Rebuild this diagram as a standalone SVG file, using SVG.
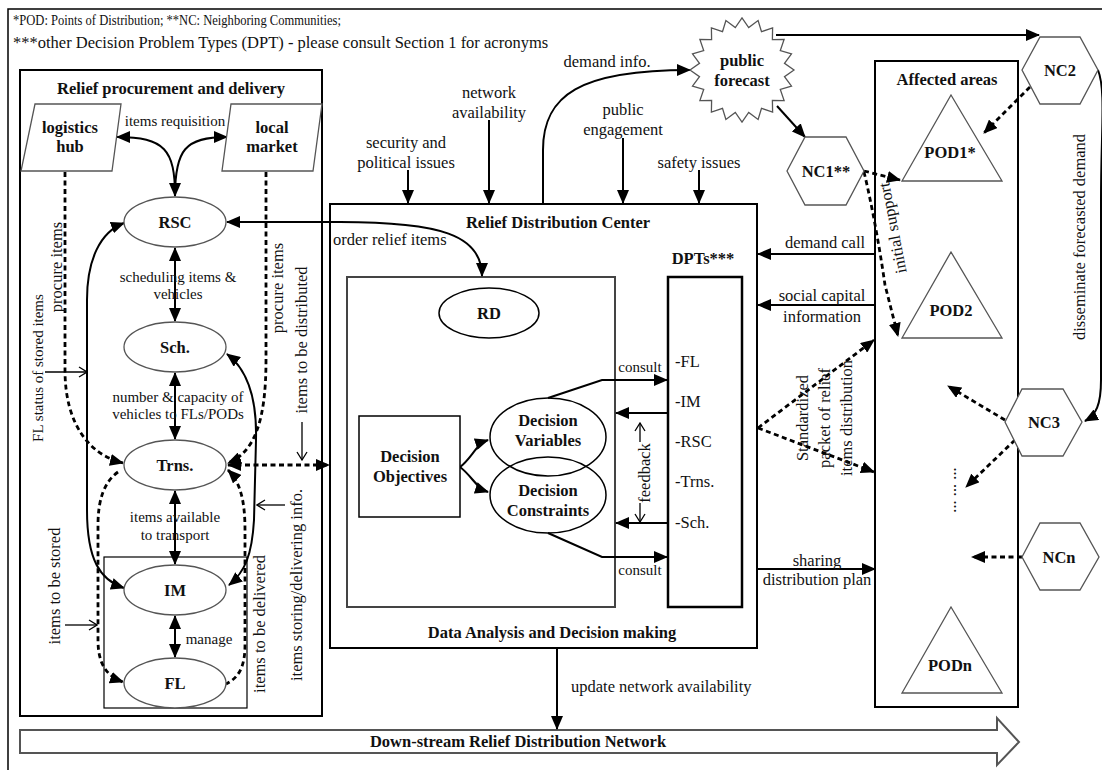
<svg xmlns="http://www.w3.org/2000/svg" width="1102" height="770" viewBox="0 0 1102 770">
<style>
.t{font-family:"Liberation Serif","Times New Roman",serif;font-size:16.5px;fill:#111}
.s{font-size:15px}
.b{font-weight:bold}
.c{text-anchor:middle}
.ln{fill:none;stroke:#000;stroke-width:2}
.dl{fill:none;stroke:#000;stroke-width:2.8;stroke-dasharray:5 3.5}
.th{fill:none;stroke:#000;stroke-width:1.3}
.nd{fill:#fff;stroke:#555;stroke-width:1.3}
.bx{fill:none;stroke:#000;stroke-width:2}
</style>
<defs>
<marker id="a" markerUnits="userSpaceOnUse" markerWidth="14" markerHeight="12" refX="13" refY="6" orient="auto-start-reverse" viewBox="0 0 14 12"><path d="M0,0 L14,6 L0,12 z" fill="#000"/></marker>
<marker id="o" markerUnits="userSpaceOnUse" markerWidth="10" markerHeight="12" refX="9" refY="6" orient="auto" viewBox="0 0 10 12"><path d="M1,1 L9,6 L1,11" fill="none" stroke="#000" stroke-width="1.3"/></marker>
</defs>
<rect width="1102" height="770" fill="#fff"/>
<rect x="8" y="9" width="1100" height="770" fill="none" stroke="#000" stroke-width="1.5"/>
<text class="t" x="13" y="25" style="font-size:15px" textLength="328" lengthAdjust="spacingAndGlyphs">*POD: Points of Distribution; **NC: Neighboring Communities;</text>
<text class="t" x="13" y="48">***other Decision Problem Types (DPT) - please consult Section 1 for acronyms</text>

<g id="panel-left">
<rect x="20" y="70" width="302" height="646" class="bx"/>
<text class="t b c" x="171" y="94">Relief procurement and delivery</text>
<rect x="104" y="557" width="143" height="151" fill="none" stroke="#000" stroke-width="1.2"/>
</g>
<g id="panel-rdc">
<rect x="330" y="204" width="427" height="444" class="bx"/>
<text class="t b c" x="558" y="228">Relief Distribution Center</text>
<rect x="347" y="277" width="268" height="330" fill="none" stroke="#444" stroke-width="2"/>
<text class="t b c" x="552" y="638">Data Analysis and Decision making</text>
</g>
<g id="panel-affected">
<rect x="875" y="61" width="143" height="646" class="bx"/>
<text class="t b c" x="947" y="85">Affected areas</text>
</g>
<g id="downstream">
<polygon points="20,730 997,730 997,718 1019,742 997,765 997,753 20,753" fill="none" stroke="#555" stroke-width="2"/>
<text class="t b c" x="518" y="747">Down-stream Relief Distribution Network</text>
</g>

<g id="connectors">
<path class="ln" d="M175,196 C175,150 165,137 117,137" marker-start="url(#a)" marker-end="url(#a)"/>
<path class="ln" d="M175,196 C175,150 185,137 227,137" marker-end="url(#a)"/>
<path class="ln" d="M175,248 L175,321" marker-start="url(#a)" marker-end="url(#a)"/>
<path class="ln" d="M175,373 L175,439" marker-start="url(#a)" marker-end="url(#a)"/>
<path class="ln" d="M175,491 L175,564" marker-start="url(#a)" marker-end="url(#a)"/>
<path class="ln" d="M175,616 L175,657" marker-start="url(#a)" marker-end="url(#a)"/>
<path class="ln" d="M124,223 C100,232 87,260 87,300 L87,510 C87,560 100,580 124,588" marker-start="url(#a)" marker-end="url(#a)"/>
<path class="ln" d="M227,354 C248,370 257,400 256,440 L254,520 C252,555 245,572 229,585" marker-start="url(#a)" marker-end="url(#a)"/>
<path class="dl" d="M65,172 L65,370 C65,425 90,455 123,463" marker-end="url(#a)"/>
<path class="dl" d="M266,172 L266,360 C266,420 255,452 228,463" marker-end="url(#a)"/>
<path class="dl" d="M118,472 C104,482 98,500 98,525 L98,640 C98,663 106,676 123,682" marker-end="url(#a)"/>
<path class="dl" d="M228,470 C240,482 245,500 245,530 L245,645 C245,668 238,678 226,684" marker-start="url(#a)"/>
<path class="dl" d="M228,465 L329,465" marker-start="url(#a)" marker-end="url(#a)"/>
<path class="th" d="M45,372 L87,372" marker-end="url(#o)"/>
<path class="th" d="M302,422 L302,460" marker-end="url(#o)"/>
<path class="th" d="M285,505 L257,505" marker-end="url(#o)"/>
<path class="th" d="M65,625 L97,625" marker-end="url(#o)"/>
<path class="ln" d="M227,222 L340,222 C440,222 482,235 482,276" marker-start="url(#a)" marker-end="url(#a)"/>
<path class="ln" d="M408,170 L408,203" marker-end="url(#a)"/>
<path class="ln" d="M489,120 L489,203" marker-end="url(#a)"/>
<path class="ln" d="M623,138 L623,203" marker-end="url(#a)"/>
<path class="ln" d="M699,170 L699,203" marker-end="url(#a)"/>
<path class="ln" d="M543,204 L543,150 C543,95 580,70 690,70" marker-end="url(#a)"/>
<path class="ln" d="M557,648 L557,729" marker-end="url(#a)"/>
<path class="ln" d="M548,398 L602,380 L667,380" marker-end="url(#a)"/>
<path class="ln" d="M548,533 L602,557 L667,557" marker-end="url(#a)"/>
<path class="ln" d="M668,413 L616,413" marker-end="url(#a)"/>
<path class="ln" d="M668,523 L616,523" marker-end="url(#a)"/>
<path class="th" d="M640,442 L640,423" marker-end="url(#o)"/>
<path class="th" d="M640,503 L640,522" marker-end="url(#o)"/>
<path class="ln" d="M460,467 C472,458 476,444 488,440" marker-end="url(#a)"/>
<path class="ln" d="M460,467 C472,476 476,488 488,492" marker-end="url(#a)"/>
<path class="ln" d="M875,254 L758,254" marker-end="url(#a)"/>
<path class="ln" d="M875,305 L758,305" marker-end="url(#a)"/>
<path class="ln" d="M758,569 L875,569" marker-end="url(#a)"/>
<path class="dl" d="M758,428 L874,340" marker-end="url(#a)"/>
<path class="dl" d="M758,428 L874,472" marker-end="url(#a)"/>
<path class="ln" d="M776,35 L1039,35" marker-end="url(#a)"/>
<path class="ln" d="M777,106 L805,137" stroke-width="2.5" marker-end="url(#a)"/>
<path class="dl" d="M864,171 L900,180" marker-end="url(#a)"/>
<path class="dl" d="M864,172 C872,205 880,250 885,285 L898,336" marker-end="url(#a)"/>
<path class="dl" d="M1030,87 L984,133" marker-end="url(#a)"/>
<path class="ln" d="M1098,70 C1106,90 1101,130 1101,200 L1101,380 C1101,405 1096,415 1085,421" marker-end="url(#a)"/>
<path class="dl" d="M1005,420 L948,386" marker-end="url(#a)"/>
<path class="dl" d="M1015,440 L966,487" marker-end="url(#a)"/>
<path class="dl" d="M1022,557 L972,557" marker-end="url(#a)"/>
</g>

<g id="labels">
<text class="t s c" x="175" y="126">items requisition</text>
<text class="t s c" x="178" y="282">scheduling items &amp;</text>
<text class="t s c" x="178" y="299">vehicles</text>
<text class="t s c" x="178" y="402">number &amp; capacity of</text>
<text class="t s c" x="178" y="419">vehicles to FLs/PODs</text>
<text class="t s c" x="175" y="522">items available</text>
<text class="t s c" x="175" y="540">to transport</text>
<text class="t s c" x="209" y="644">manage</text>
<text class="t c" transform="translate(57,267) rotate(-90)" y="5">procure items</text>
<text class="t c" transform="translate(278,288) rotate(-90)" y="5">procure items</text>
<text class="t s c" transform="translate(38,368) rotate(-90)" y="5">FL status of stored items</text>
<text class="t c" transform="translate(302,340) rotate(-90)" y="5">items to be distributed</text>
<text class="t c" transform="translate(297,585) rotate(-90)" y="5">items storing/delivering info.</text>
<text class="t c" transform="translate(55,586) rotate(-90)" y="5">items to be stored</text>
<text class="t c" transform="translate(260,624) rotate(-90)" y="5">items to be delivered</text>
<text class="t c" x="406" y="148">security and</text>
<text class="t c" x="406" y="168">political issues</text>
<text class="t c" x="489" y="98">network</text>
<text class="t c" x="489" y="118">availability</text>
<text class="t c" x="623" y="115">public</text>
<text class="t c" x="623" y="135">engagement</text>
<text class="t c" x="699" y="168">safety issues</text>
<text class="t c" x="607" y="67">demand info.</text>
<text class="t" x="333" y="245">order relief items</text>
<text class="t s c" x="640" y="372">consult</text>
<text class="t s c" x="640" y="575">consult</text>
<text class="t c" transform="translate(645,473) rotate(-90)" y="5">feedback</text>
<text class="t" x="571" y="692">update network availability</text>
<text class="t c" x="825" y="248">demand call</text>
<text class="t c" x="822" y="301">social capital</text>
<text class="t c" x="822" y="322">information</text>
<text class="t c" x="817" y="566">sharing</text>
<text class="t c" x="817" y="585">distribution plan</text>
<text class="t c" transform="translate(825,418) rotate(-90)"><tspan x="0" y="-17">Standardized</tspan><tspan x="0" y="5">packet of relief</tspan><tspan x="0" y="27">items distribution</tspan></text>
<text class="t c" transform="translate(893,228) rotate(-101)" y="5">initial support</text>
<text class="t c" transform="translate(1080,237) rotate(-90)" y="5">disseminate forecasted demand</text>
<text class="t c" transform="translate(951,490) rotate(-90)" y="5">... ... ...</text>
</g>

<g id="node-logistics-hub"><polygon class="nd" points="35,104 121,104 112,171 21,171"/><text class="t b c" x="70" y="133">logistics</text><text class="t b c" x="70" y="152">hub</text></g>
<g id="node-local-market"><polygon class="nd" points="231,104 322,104 313,171 222,171"/><text class="t b c" x="272" y="133">local</text><text class="t b c" x="272" y="152">market</text></g>
<g id="node-rsc"><ellipse class="nd" cx="175" cy="222" rx="51" ry="25"/><text class="t b c" x="175" y="228">RSC</text></g>
<g id="node-sch"><ellipse class="nd" cx="175" cy="347" rx="51" ry="25"/><text class="t b c" x="175" y="353">Sch.</text></g>
<g id="node-trns"><ellipse class="nd" cx="175" cy="465" rx="51" ry="25"/><text class="t b c" x="175" y="471">Trns.</text></g>
<g id="node-im"><ellipse class="nd" cx="175" cy="590" rx="51" ry="25"/><text class="t b c" x="175" y="596">IM</text></g>
<g id="node-fl"><ellipse class="nd" cx="175" cy="683" rx="51" ry="25"/><text class="t b c" x="175" y="689">FL</text></g>
<g id="node-rd"><ellipse cx="489" cy="313" rx="50" ry="25" fill="#fff" stroke="#000" stroke-width="1.5"/><text class="t b c" x="489" y="319">RD</text></g>
<g id="node-objectives"><rect x="359" y="416" width="101" height="101" fill="#fff" stroke="#000" stroke-width="1.5"/><text class="t b c" x="410" y="462">Decision</text><text class="t b c" x="410" y="482">Objectives</text></g>
<g id="node-variables"><ellipse cx="548" cy="437" rx="58" ry="39" fill="none" stroke="#000" stroke-width="1.5"/><text class="t b c" x="548" y="426">Decision</text><text class="t b c" x="548" y="446">Variables</text></g>
<g id="node-constraints"><ellipse cx="548" cy="495" rx="58" ry="38" fill="none" stroke="#000" stroke-width="1.5"/><text class="t b c" x="548" y="496">Decision</text><text class="t b c" x="548" y="516">Constraints</text></g>
<g id="node-dpts"><text class="t b c" x="703" y="264">DPTs***</text><rect x="668" y="277" width="74" height="330" fill="none" stroke="#000" stroke-width="2.5"/><text class="t" x="675" y="367">-FL</text><text class="t" x="675" y="407">-IM</text><text class="t" x="675" y="447">-RSC</text><text class="t" x="675" y="487">-Trns.</text><text class="t" x="675" y="528">-Sch.</text></g>
<g id="node-public-forecast"><polygon class="nd" points="794,70 784.5,76.7 791.5,86.1 780.3,89.5 784.1,100.6 772.4,100.4 772.6,112.1 761.5,108.3 758.1,119.5 748.7,112.5 742,122 735.3,112.5 725.9,119.5 722.5,108.3 711.4,112.1 711.6,100.4 699.9,100.6 703.7,89.5 692.5,86.1 699.5,76.7 690,70 699.5,63.3 692.5,53.9 703.7,50.5 699.9,39.4 711.6,39.6 711.4,27.9 722.5,31.7 725.9,20.5 735.3,27.5 742,18 748.7,27.5 758.1,20.5 761.5,31.7 772.6,27.9 772.4,39.6 784.1,39.4 780.3,50.5 791.5,53.9 784.5,63.3"/><text class="t b c" x="742" y="66">public</text><text class="t b c" x="742" y="86">forecast</text></g>
<g id="node-nc1"><polygon class="nd" points="787,171 805,137 846,137 864,171 846,205 805,205"/><text class="t b c" x="826" y="177">NC1**</text></g>
<g id="node-nc2"><polygon class="nd" points="1022,70 1040,37 1080,37 1098,70 1080,104 1040,104"/><text class="t b c" x="1060" y="76">NC2</text></g>
<g id="node-nc3"><polygon class="nd" points="1005,422 1022,389 1063,389 1082,422 1063,456 1022,456"/><text class="t b c" x="1044" y="428">NC3</text></g>
<g id="node-ncn"><polygon class="nd" points="1022,557 1040,523 1080,523 1099,557 1080,590 1040,590"/><text class="t b c" x="1059" y="563">NCn</text></g>
<g id="node-pod1"><polygon class="nd" points="951,95 1002,181 902,181"/><text class="t b c" x="950" y="158">POD1*</text></g>
<g id="node-pod2"><polygon class="nd" points="951,252 1002,338 902,338"/><text class="t b c" x="951" y="316">POD2</text></g>
<g id="node-podn"><polygon class="nd" points="951,607 1002,693 902,693"/><text class="t b c" x="950" y="671">PODn</text></g>
</svg>
